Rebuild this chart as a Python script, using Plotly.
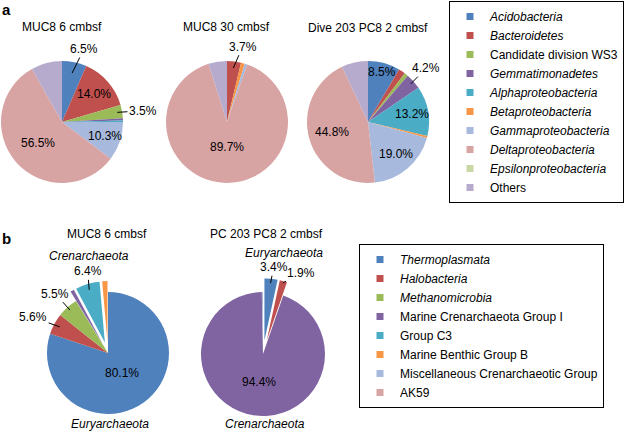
import math
import plotly.graph_objects as go

# ---------------- data ----------------
bact_labels = ["<i>Acidobacteria</i>", "<i>Bacteroidetes</i>", "Candidate division WS3",
               "<i>Gemmatimonadetes</i>", "<i>Alphaproteobacteria</i>", "<i>Betaproteobacteria</i>",
               "<i>Gammaproteobacteria</i>", "<i>Deltaproteobacteria</i>",
               "<i>Epsilonproteobacteria</i>", "Others"]
bact_colors = ["#4F81BD", "#C0504D", "#9BBB59", "#8064A2", "#4BACC6", "#F79646",
               "#A7B9DC", "#D8A3A3", "#C8D9A6", "#B7ABCD"]
muc8_6_bact = [6.5, 14.0, 3.5, 0.6, 0.4, 0.0, 10.3, 56.5, 0.0, 8.2]
muc8_30_bact = [0.0, 3.7, 0.0, 0.0, 0.0, 1.0, 0.7, 89.7, 0.0, 4.9]
dive203_bact = [8.5, 1.8, 1.0, 4.2, 13.2, 0.5, 19.0, 44.8, 0.0, 7.0]

arch_labels = ["<i>Thermoplasmata</i>", "<i>Halobacteria</i>", "<i>Methanomicrobia</i>",
               "Marine Crenarchaeota Group I", "Group C3", "Marine Benthic Group B",
               "Miscellaneous Crenarchaeotic Group", "AK59"]
arch_colors = ["#4F81BD", "#C0504D", "#9BBB59", "#8064A2", "#4BACC6", "#F79646",
               "#A7B9DC", "#D8A3A3"]
muc8_6_arch = [80.1, 5.6, 5.5, 1.0, 6.4, 1.4, 0.0, 0.0]
pc203_arch = [3.4, 1.9, 0.0, 94.4, 0.0, 0.0, 0.3, 0.0]
muc8_6_pull = [0, 0, 0, 0.18, 0.18, 0.18, 0, 0]
pc203_pull = [0.22, 0.22, 0, 0, 0, 0, 0, 0]

# ---------------- layout geometry ----------------
W, H = 629, 432
FONT = "Liberation Sans, Arial, sans-serif"

pies = [
    dict(values=muc8_6_bact, labels=bact_labels, colors=bact_colors, pull=None,
         cx=62, cy=122, r=61, title="MUC8 6 cmbsf", tx=62, ty=27,
         marks=[(0, "out", 0.82, 1.25, 5), (1, "in", 0.70), (2, "out", 0.92, 1.34, 2),
                (6, "in", 0.74), (7, "in", 0.52)]),
    dict(values=muc8_30_bact, labels=bact_labels, colors=bact_colors, pull=None,
         cx=227, cy=122, r=61, title="MUC8 30 cmbsf", tx=226, ty=27,
         marks=[(1, "out", 0.89, 1.26, 5), (7, "in", 0.41)]),
    dict(values=dive203_bact, labels=bact_labels, colors=bact_colors, pull=None,
         cx=368, cy=122, r=61, title="Dive 203 PC8 2 cmbsf", tx=368, ty=28,
         marks=[(0, "in", 0.85), (3, "out", 0.94, 1.30, -1), (4, "in", 0.73),
                (6, "in", 0.70), (7, "in", 0.62)]),
    dict(values=muc8_6_arch, labels=arch_labels, colors=arch_colors, pull=muc8_6_pull,
         cx=108, cy=353, r=61, title="MUC8 6 cmbsf", tx=107, ty=234,
         marks=[(0, "in", 0.40), (1, "out", 0.90, 1.36, -3), (2, "out", 0.94, 1.30, 0),
                (4, "out", 0.90, 1.20, 3)]),
    dict(values=pc203_arch, labels=arch_labels, colors=arch_colors, pull=pc203_pull,
         cx=263, cy=354, r=62, title="PC 203 PC8 2 cmbsf", tx=266, ty=234,
         marks=[(3, "in", 0.45), (0, "out", 0.93, 1.19, 1), (1, "out", 0.97, 1.23, 11)]),
]

fig = go.Figure()
annotations = []


def px2paper(x, y):
    return x / W, 1 - y / H


def text_ann(txt, x, y, size=12):
    X, Y = px2paper(x, y)
    return dict(x=X, y=Y, xref="paper", yref="paper", text=txt, showarrow=False,
                xanchor="center", yanchor="middle",
                font=dict(size=size, color="#000", family=FONT))


for p in pies:
    vals = p["values"]
    pull = p["pull"] or [0] * len(vals)
    maxpull = max(pull)
    half = p["r"] * (1 + maxpull)
    x0, y1p = px2paper(p["cx"] - half, p["cy"] - half)
    x1, y0p = px2paper(p["cx"] + half, p["cy"] + half)
    fig.add_trace(go.Pie(
        values=vals, labels=p["labels"], marker=dict(colors=p["colors"], line=dict(width=0)),
        sort=False, direction="clockwise", rotation=0, pull=pull,
        textinfo="none", showlegend=False, hoverinfo="label+percent",
        domain=dict(x=[x0, x1], y=[y0p, y1p]),
    ))
    total = sum(vals)
    annotations.append(text_ann(p["title"], p["tx"], p["ty"]))
    for m in p["marks"]:
        i = m[0]
        start = sum(vals[:i]) / total * 360
        mid = start + vals[i] / total * 180
        a = math.radians(mid)
        pcx = p["cx"] + pull[i] * p["r"] * math.sin(a)
        pcy = p["cy"] - pull[i] * p["r"] * math.cos(a)
        txt = "%.1f%%" % vals[i]
        if m[1] == "in":
            lx = pcx + m[2] * p["r"] * math.sin(a)
            ly = pcy - m[2] * p["r"] * math.cos(a)
            annotations.append(text_ann(txt, lx, ly))
        else:
            tipx = pcx + m[2] * p["r"] * math.sin(a)
            tipy = pcy - m[2] * p["r"] * math.cos(a)
            b = math.radians(mid + m[4])
            lx = pcx + m[3] * p["r"] * math.sin(b)
            ly = pcy - m[3] * p["r"] * math.cos(b)
            X, Y = px2paper(tipx, tipy)
            annotations.append(dict(x=X, y=Y, xref="paper", yref="paper", text=txt,
                                    showarrow=True, arrowhead=0, arrowwidth=1,
                                    arrowcolor="#000", standoff=0,
                                    ax=lx - tipx, ay=ly - tipy,
                                    font=dict(size=12, color="#000", family=FONT)))

# group labels and panel letters
for txt, x, y in [("<i>Crenarchaeota</i>", 89, 256), ("<i>Euryarchaeota</i>", 110, 424),
                  ("<i>Euryarchaeota</i>", 284, 253), ("<i>Crenarchaeota</i>", 265, 424)]:
    annotations.append(text_ann(txt, x, y))
for txt, x, y in [("a", 7, 9), ("b", 7, 239)]:
    annotations.append(text_ann("<b>%s</b>" % txt, x, y, size=15))

# legends via empty marker traces
for lab, col in zip(bact_labels, bact_colors):
    fig.add_trace(go.Scatter(x=[None], y=[None], mode="markers", name=lab, legend="legend",
                             marker=dict(symbol="square", size=7, color=col)))
for lab, col in zip(arch_labels, arch_colors):
    fig.add_trace(go.Scatter(x=[None], y=[None], mode="markers", name=lab, legend="legend2",
                             marker=dict(symbol="square", size=7, color=col)))

lx_a, ly_a = px2paper(449, 1)
lx_b, ly_b = px2paper(359, 244)
fig.update_layout(
    width=W, height=H, margin=dict(l=0, r=0, t=0, b=0),
    paper_bgcolor="white", plot_bgcolor="white",
    font=dict(family=FONT, size=12, color="#000"),
    xaxis=dict(visible=False), yaxis=dict(visible=False),
    annotations=annotations,
    legend=dict(x=lx_a, y=ly_a, xanchor="left", yanchor="top", bordercolor="#000",
                borderwidth=1, bgcolor="white", font=dict(size=12, family=FONT)),
    legend2=dict(x=lx_b, y=ly_b, xanchor="left", yanchor="top", bordercolor="#000",
                 borderwidth=1, bgcolor="white", font=dict(size=12, family=FONT)),
    showlegend=True,
)
fig.write_html("out.html", config={"displayModeBar": False},
               post_script="document.body.style.margin='0px';document.body.style.padding='0px';")
